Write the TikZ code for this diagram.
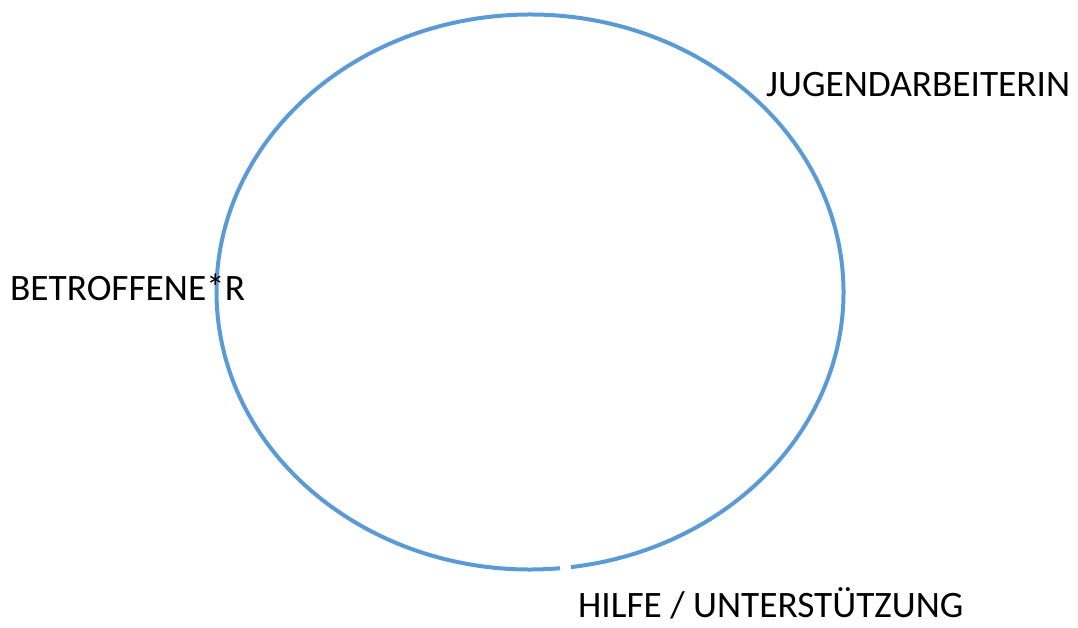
\documentclass[tikz,border=0pt]{standalone}
\usepackage{fontspec}
\setmainfont{Carlito}
\definecolor{ringblue}{HTML}{5B9BD5}
\begin{document}
\begin{tikzpicture}[x=1pt,y=-1pt,
  ring/.style={draw=ringblue,line width=4pt},
  lbl/.style={font=\fontsize{37.3}{42}\selectfont,inner sep=0pt,anchor=base west,text=black}]
\useasboundingbox (0,0) rectangle (1078,628);
\coordinate (c) at (530,292);
\draw[ring] (c) ++(84.5:313.5 and 277.5) arc[start angle=84.5,end angle=442.5,x radius=313.5,y radius=277.5];
\node[lbl] (jug) at (766,97) {JUGENDARBEITERIN};
\node[lbl] (bet) at (10,300) {BETROFFENE*R};
\node[lbl] (hil) at (578,617) {HILFE / UNTERSTÜTZUNG};
\end{tikzpicture}
\end{document}
